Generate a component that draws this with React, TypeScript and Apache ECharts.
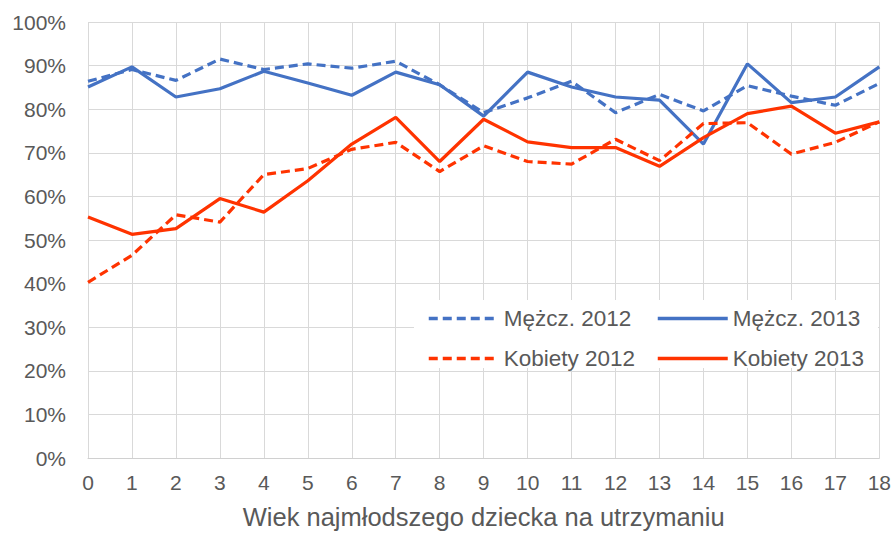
import React, { useEffect, useRef } from "react";
import * as echarts from "echarts";

const categories = ["0","1","2","3","4","5","6","7","8","9","10","11","12","13","14","15","16","17","18"];
const men2012 = [86.4, 89.1, 86.6, 91.5, 89.1, 90.4, 89.4, 91.0, 85.6, 79.2, 82.6, 86.4, 79.2, 83.4, 79.6, 85.4, 83.0, 80.9, 85.9];
const men2013 = [85.1, 89.7, 82.8, 84.7, 88.7, 86.0, 83.2, 88.5, 85.6, 78.4, 88.5, 85.1, 82.8, 82.1, 72.0, 90.4, 81.5, 82.8, 89.7];
const women2012 = [40.3, 46.5, 55.8, 54.1, 65.0, 66.4, 70.8, 72.4, 65.7, 71.6, 68.0, 67.4, 73.1, 68.2, 76.7, 76.9, 69.7, 72.4, 77.1];
const women2013 = [55.3, 51.3, 52.6, 59.5, 56.4, 63.6, 72.0, 78.1, 68.0, 77.7, 72.5, 71.2, 71.2, 66.9, 73.5, 79.0, 80.7, 74.5, 77.1];
const seriesNames = ["Mężcz. 2012", "Mężcz. 2013", "Kobiety 2012", "Kobiety 2013"];
const xTitle = "Wiek najmłodszego dziecka na utrzymaniu";

const BLUE = "#4472C4";
const RED = "#FF3300";
const FONT = "'Liberation Sans', Arial, sans-serif";
const TEXT = "#595959";

export default function App() {
  const ref = useRef<HTMLDivElement>(null);
  useEffect(() => {
    if (!ref.current) return;
    const chart = echarts.init(ref.current, undefined, { renderer: "svg" });
    const mk = (name: string, data: number[], color: string, dashed: boolean) => ({
      name,
      type: "line",
      data,
      symbol: "none",
      lineStyle: { color, width: 3.2, type: dashed ? [9, 5] : "solid" },
      itemStyle: { color },
      z: 5,
    });
    const legendText = { color: TEXT, fontSize: 22.5, fontFamily: FONT, lineHeight: 22 };
    const legendCommon = {
      orient: "vertical",
      top: 307,
      padding: 0,
      itemWidth: 70,
      itemHeight: 14,
      itemGap: 17,
      itemStyle: { opacity: 0 },
      lineStyle: { width: 3.5 },
      textStyle: legendText,
      z: 10,
    };
    chart.setOption({
      animation: false,
      textStyle: { fontFamily: FONT },
      grid: { left: 88, right: 14, top: 22, bottom: 74, containLabel: false },
      graphic: [
        {
          type: "rect",
          shape: { x: 414, y: 300, width: 464, height: 68 },
          style: { fill: "#ffffff" },
          z: 3,
          silent: true,
        },
      ],
      legend: [
        { ...legendCommon, left: 427, data: [seriesNames[0], seriesNames[2]] },
        { ...legendCommon, left: 656, data: [seriesNames[1], seriesNames[3]] },
      ],
      xAxis: {
        type: "category",
        data: categories,
        boundaryGap: false,
        axisLine: { show: true, lineStyle: { color: "#D0D0D0", width: 1 } },
        axisTick: { show: false },
        splitLine: { show: true, lineStyle: { color: "#D9D9D9", width: 1 } },
        axisLabel: { color: TEXT, fontSize: 21, margin: 14, fontFamily: FONT, interval: 0 },
        name: xTitle,
        nameLocation: "middle",
        nameGap: 46,
        nameTextStyle: { color: TEXT, fontSize: 25.5, fontFamily: FONT },
      },
      yAxis: {
        type: "value",
        min: 0,
        max: 100,
        interval: 10,
        axisLine: { show: false },
        axisTick: { show: false },
        splitLine: { show: true, lineStyle: { color: "#D9D9D9", width: 1 } },
        axisLabel: { color: TEXT, fontSize: 21, margin: 22, fontFamily: FONT, formatter: "{value}%" },
      },
      series: [
        mk(seriesNames[0], men2012, BLUE, true),
        mk(seriesNames[1], men2013, BLUE, false),
        mk(seriesNames[2], women2012, RED, true),
        mk(seriesNames[3], women2013, RED, false),
      ],
    });
    return () => chart.dispose();
  }, []);
  return <div ref={ref} style={{ width: 894, height: 535, position: "absolute", left: 0, top: 0 }} />;
}
